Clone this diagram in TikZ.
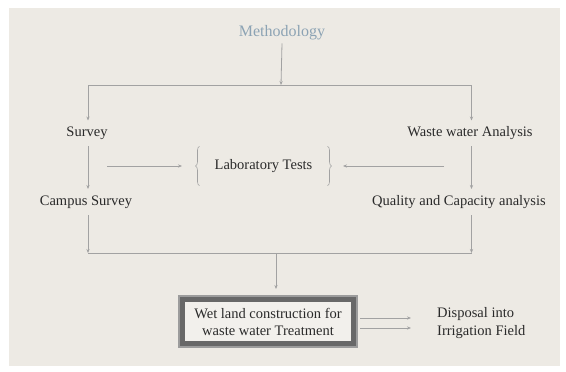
\documentclass[tikz,border=0pt]{standalone}
\usepackage{fontspec}
\setmainfont{Liberation Serif}
\usetikzlibrary{arrows.meta,decorations.pathreplacing,calc}
\definecolor{bg}{HTML}{EDEAE4}
\definecolor{ln}{HTML}{A2A2A2}
\definecolor{tx}{HTML}{2A2A2A}
\definecolor{meth}{HTML}{8CA3B4}
\definecolor{bxdark}{HTML}{686868}
\definecolor{bxmid}{HTML}{9C9C9C}
\definecolor{bxin}{HTML}{F2F0EC}
\tikzset{
  lbl/.style={text=tx,font=\fontsize{14.5}{17}\selectfont,inner sep=3pt},
  arr/.style={draw=ln,line width=0.8pt,-{Stealth[length=4pt,width=3.2pt]}},
  cn/.style={draw=ln,line width=0.8pt},
  brc/.style={draw=ln,line width=0.6pt,decorate,decoration={brace,amplitude=4pt}}
}
\begin{document}
\begin{tikzpicture}[x=1pt,y=-1pt]
\useasboundingbox (0,0) rectangle (566,372);
\fill[bg] (9,8) rectangle (560,366);
% nodes
\node[text=meth,font=\fontsize{16}{19}\selectfont,inner sep=3pt] (meth) at (282,33) {Methodology};
\node[lbl] (survey) at (87,133) {Survey};
\node[lbl] (campus) at (86,202) {Campus Survey};
\node[lbl] (waste) at (470,133) {Waste water Analysis};
\node[lbl] (quality) at (459,202) {Quality and Capacity analysis};
\node[lbl,minimum height=39pt,inner xsep=15pt] (lab) at (263.5,166) {Laboratory Tests};
\node[lbl,align=left,anchor=west,font=\fontsize{14.5}{18}\selectfont] (disp) at (434,323) {Disposal into\\Irrigation Field};
% box
\node[lbl,align=center,minimum width=172pt,minimum height=45pt,fill=bxin,
      draw=bxdark,line width=6pt] (box) at (268,321.5)
      {Wet land construction for\\waste water Treatment};
\draw[bxmid,line width=1.2pt] (box.south west) rectangle (box.north east);
% helper coordinates
\coordinate (top) at (281,85);
\coordinate (tl) at (88,85);
\coordinate (tr) at (471.5,85);
\coordinate (bl) at (88,253);
\coordinate (br) at (471.5,253);
\coordinate (bm) at (276,253);
\coordinate (la) at (107,166);
\coordinate (ra) at (444,166);
% connectors
\draw[arr] (meth.south) -- (top);
\draw[cn] (tl) -- (tr);
\draw[arr] (tl) -- (88,120.5);
\draw[arr] (tr) -- (471.5,120.5);
\draw[arr] (88,146) -- (88,189);
\draw[arr] (471.5,146) -- (471.5,189);
\draw[arr] (88,215) -- (bl);
\draw[arr] (471.5,215) -- (br);
\draw[cn] (bl) -- (br);
\draw[arr,shorten >=7pt] (bm) -- (bm |- box.north);
\draw[arr] (la) -- (182,166);
\draw[arr] (ra) -- (343,166);
\draw[brc] (lab.south west) -- (lab.north west);
\draw[brc] (lab.north east) -- (lab.south east);
\draw[arr,shorten <=3pt] ([yshift=3.5pt]box.east) -- (411,318);
\draw[arr,shorten <=3pt] ([yshift=-6.5pt]box.east) -- (411,328);
\end{tikzpicture}
\end{document}
